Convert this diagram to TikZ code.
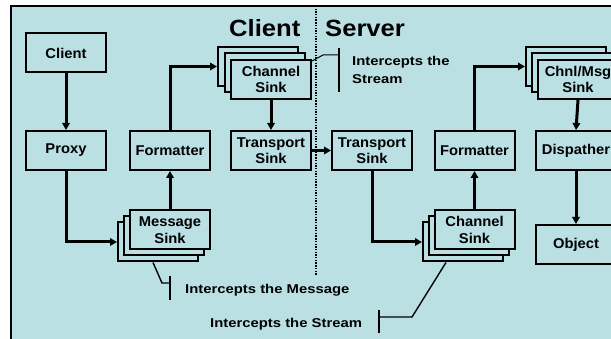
\documentclass[tikz,border=0pt]{standalone}
\usepackage{fontspec}
\setmainfont{Liberation Sans}
\newfontfamily\boxfam[FakeStretch=1.04]{Liberation Sans}
\newfontfamily\lblfam[FakeStretch=1.16]{Liberation Sans}
\newfontfamily\ttlfam[FakeStretch=1.09]{Liberation Sans}
\usetikzlibrary{arrows.meta}
\definecolor{bg}{RGB}{186,224,228}
\begin{document}
\begin{tikzpicture}[x=1pt,y=-1pt,
  box/.style={draw=black,line width=2pt,fill=bg,minimum width=80pt,minimum height=39pt,
    inner sep=0pt,align=center,font=\boxfam\fontsize{14.2}{16.5}\selectfont\bfseries},
  flow/.style={line width=3pt,-{Triangle[length=7pt,width=7.5pt]}},
  callout/.style={line width=1.4pt},
  lbl/.style={inner sep=0pt,anchor=base west,font=\lblfam\fontsize{12.8}{15}\selectfont\bfseries},
  ttl/.style={inner sep=0pt,anchor=base west,font=\ttlfam\fontsize{23.5}{26}\selectfont\bfseries}]
\clip (0,0) rectangle (611,339);
\fill[white] (0,0) rectangle (611,339);
\draw[line width=2.2pt,fill=bg] (11,6) rectangle (650,370);

% dividing dotted line
\coordinate (dtop) at (316,6);
\coordinate (dbot) at (316,275);
\draw[line width=2.6pt,dash pattern=on 1.4pt off 1.3pt] (dtop) -- (dbot);

% titles
\node[ttl] (tclient) at (229,37) {Client};
\node[ttl] (tserver) at (325,37) {Server};

% client side
\node[box] (client) at (66,53) {Client};
\node[box] (proxy) at (66,150.5) {Proxy};
\node[box] (fmtC) at (170,150.5) {Formatter};
\node[box] (chanCa) at (258,66.5) {};
\node[box] (chanCb) at (264.5,73) {};
\node[box] (chanC) at (271,79.5) {Channel\\Sink};
\node[box] (transC) at (271,150.5) {Transport\\Sink};
\node[box] (msgCa) at (158,242) {};
\node[box] (msgCb) at (164,236) {};
\node[box] (msgC) at (170,230) {Message\\Sink};

% server side
\node[box] (transS) at (372,150.5) {Transport\\Sink};
\node[box] (fmtS) at (474.5,150.5) {Formatter};
\node[box] (chanSa) at (463,242) {};
\node[box] (chanSb) at (469,236) {};
\node[box] (chanS) at (474.5,230) {Channel\\Sink};
\node[box] (chnlSa) at (566,66.5) {};
\node[box] (chnlSb) at (572,73) {};
\node[box] (chnlS) at (578,79.5) {Chnl/Msg\\Sink};
\node[box] (disp) at (576,150.5) {Dispather};
\node[box] (obj) at (576,244.5) {Object};

% flow arrows
\draw[flow] (client) -- (proxy);
\draw[flow] (proxy.south) |- (msgCa.west);
\draw[flow] (msgC) -- (fmtC);
\draw[flow] (fmtC.north) |- (chanCa.west);
\draw[flow] (chanC) -- (transC);
\draw[flow] (transC) -- (transS);
\draw[flow] (transS.south) |- (chanSa.west);
\draw[flow] (chanS) -- (fmtS);
\draw[flow] (fmtS.north) |- (chnlSa.west);
\draw[flow] (chnlS.south) -- (disp.north);
\draw[flow] (disp) -- (obj);

% callouts
\coordinate (cm1) at (162,283);
\coordinate (cm2) at (170,283);
\coordinate (cmt) at (170,276);
\coordinate (cmb) at (170,300);
\draw[callout] ([xshift=-5pt]msgCa.south) -- (cm1) -- (cm2);
\draw[callout] (cmt) -- (cmb);
\node[lbl] (lmsg) at (185,294) {Intercepts the Message};

\coordinate (ct1) at (323,55);
\coordinate (ct2) at (339,55);
\coordinate (ctt) at (339,48);
\coordinate (ctb) at (339,92);
\draw[callout,line width=1pt] ([yshift=-2pt]chanC.north east) -- (ct1) -- (ct2);
\draw[callout] (ctt) -- (ctb);
\node[lbl] (lst1) at (352,66) {Intercepts the};
\node[lbl] (lst2) at (352,84) {Stream};

\coordinate (cb1) at (412,317);
\coordinate (cb2) at (379,317);
\coordinate (cbt) at (379,310);
\coordinate (cbb) at (379,333);
\draw[callout] ([xshift=-17pt]chanSa.south) -- (cb1) -- (cb2);
\draw[callout] (cbt) -- (cbb);
\node[lbl] (lsb) at (210,327.5) {Intercepts the Stream};
\end{tikzpicture}
\end{document}
